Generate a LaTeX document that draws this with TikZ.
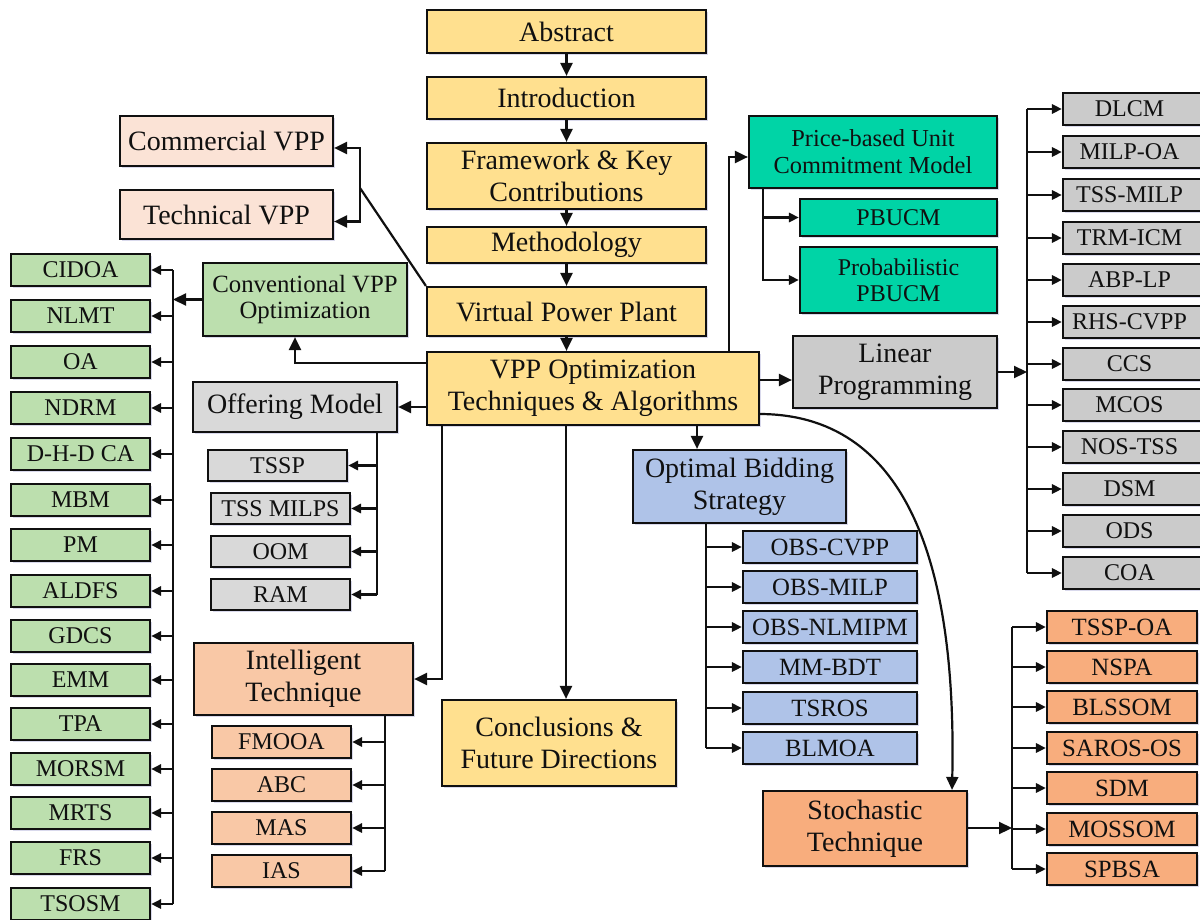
\documentclass[tikz,border=0pt]{standalone}
\usepackage{fontspec}
\setmainfont{Liberation Serif}
\usetikzlibrary{arrows.meta,shadows}

\definecolor{yel}{HTML}{FFE08F}
\definecolor{peach}{HTML}{FBE3D6}
\definecolor{grn}{HTML}{BCDFAE}
\definecolor{gryA}{HTML}{D9D9D9}
\definecolor{gryB}{HTML}{CBCBCB}
\definecolor{teal}{HTML}{00D4A6}
\definecolor{intl}{HTML}{F9C8A6}
\definecolor{blu}{HTML}{AFC3E8}
\definecolor{org}{HTML}{F8AD7D}
\definecolor{ink}{HTML}{101010}

% box from corner (x1,y1) to corner (x2,y2), in pixel-like units
\newcommand\tb[7]{%
  \node[#6, minimum width={((#4)-(#2))*0.5pt}, minimum height={((#5)-(#3))*0.5pt}]
    (#1) at ({((#2)+(#4))/2},{((#3)+(#5))/2}) {#7};}

\tikzset{
  box/.style={draw=ink, line width=1.1pt, inner sep=0pt, align=center, text=ink,
    drop shadow={shadow xshift=1.2pt, shadow yshift=-1.2pt, fill=blue!35!gray, opacity=0.22}},
  big/.style={box, font=\fontsize{14}{16}\selectfont},
  mid/.style={box, font=\fontsize{12.4}{13.2}\selectfont},
  small/.style={box, font=\fontsize{12}{13}\selectfont},
  line/.style={draw=ink, line width=1.1pt},
  arr/.style={line, -{Triangle[length=6.5pt,width=6pt]}},
  sarr/.style={line, -{Triangle[length=5pt,width=4.6pt]}},
}

\begin{document}
\begin{tikzpicture}[x=0.5pt, y=-0.5pt]
\useasboundingbox[fill=white] (0,0) rectangle (1200,920);
\begin{scope}
\clip (0,0) rectangle (1200,920);

% ---------- main column ----------
\tb{abs}{427}{10}{706}{53}{big, fill=yel}{Abstract}
\tb{intro}{427}{77}{706}{119}{big, fill=yel}{Introduction}
\tb{frame}{427}{143}{706}{209}{big, fill=yel}{Framework \& Key\\Contributions}
\tb{meth}{427}{227}{706}{263}{big, fill=yel}{Methodology}
\tb{vpp}{427}{287}{706}{336}{big, fill=yel}{Virtual Power Plant}
\tb{opt}{427}{352}{759}{425}{big, fill=yel}{VPP Optimization\\Techniques \& Algorithms}
\tb{concl}{442}{700}{676}{786}{big, fill=yel}{Conclusions \&\\Future Directions}

\draw[arr] (abs.south) -- (intro.north);
\draw[arr] (intro.south) -- (frame.north);
\draw[arr] (frame.south) -- (meth.north);
\draw[arr] (meth.south) -- (vpp.north);
\draw[arr] (vpp.south) -- (vpp.south |- opt.north);

% ---------- VPP types ----------
\tb{comm}{120}{116}{333}{166}{big, fill=peach}{Commercial VPP}
\tb{tech}{120}{190}{333}{239}{big, fill=peach}{Technical VPP}
\coordinate (split) at (360,188);
\draw[line] (vpp.north west) -- (split);
\draw[arr] (split) |- ([yshift=-3.5pt]comm.east);
\draw[arr] (split) |- ([yshift=-3.5pt]tech.east);

% ---------- outgoing points of the optimisation box ----------
\coordinate (oL1) at (427,363);
\coordinate (oL2) at (427,407);
\coordinate (oB1) at (442,425);
\coordinate (oB2) at (566,425);
\coordinate (oB3) at (697,425);
\coordinate (oR1) at (759,380);
\coordinate (oR2) at (759,414);
\coordinate (oT)  at (729,352);

% ---------- conventional optimisation ----------
\tb{conv}{203}{263}{407}{336}{mid, fill=grn}{Conventional VPP\\Optimization}
\draw[arr] (oL1) -| ([xshift=-5pt]conv.south);
\coordinate (gbus) at (173,270);
\foreach \t/\yy [count=\i] in {CIDOA/270, NLMT/316, OA/362, NDRM/408, D-H-D CA/454,
    MBM/500, PM/545, ALDFS/591, GDCS/636, EMM/680, TPA/724, MORSM/769, MRTS/813,
    FRS/858, TSOSM/904}{
  \tb{g\i}{11}{\yy-16}{150}{\yy+16}{small, fill=grn}{\t}
  \draw[sarr] (gbus |- g\i.east) -- (g\i.east);
}
\draw[line] (gbus |- g1.east) -- (gbus |- g15.east);
\draw[arr] (conv.west) -- (conv.west -| gbus);

% ---------- offering model ----------
\tb{offer}{193}{382}{397}{432}{big, fill=gryA}{Offering Model}
\draw[arr] (oL2) -- (offer.east);
\coordinate (obus) at (377,432);
\tb{o1}{208}{450}{347}{481}{small, fill=gryA}{TSSP}
\tb{o2}{211}{493}{350}{524}{small, fill=gryA}{TSS MILPS}
\tb{o3}{211}{536}{350}{567}{small, fill=gryA}{OOM}
\tb{o4}{211}{579}{350}{610}{small, fill=gryA}{RAM}
\draw[line] (obus) -- (obus |- o4.east);
\foreach \i in {1,...,4}{\draw[sarr] (obus |- o\i.east) -- (o\i.east);}

% ---------- intelligent technique ----------
\tb{intel}{194}{643}{413}{715}{big, fill=intl}{Intelligent\\Technique}
\draw[arr] (oB1) |- (intel.east);
\coordinate (ibus) at (385,715);
\foreach \t/\yy [count=\i] in {FMOOA/742, ABC/785, MAS/828, IAS/871}{
  \tb{i\i}{212}{\yy-16}{351}{\yy+16}{small, fill=intl}{\t}
  \draw[sarr] (ibus |- i\i.east) -- (i\i.east);
}
\draw[line] (ibus) -- (ibus |- i4.east);

% ---------- conclusions ----------
\draw[arr] (oB2) -- (oB2 |- concl.north);

% ---------- optimal bidding ----------
\tb{obs}{633}{450}{846}{523}{big, fill=blu}{Optimal Bidding\\Strategy}
\draw[arr] (oB3) -- (oB3 |- obs.north);
\coordinate (bbus) at (706,523);
\foreach \t/\yy [count=\i] in {OBS-CVPP/547, OBS-MILP/587, OBS-NLMIPM/627,
    MM-BDT/667, TSROS/708, BLMOA/748}{
  \tb{b\i}{743}{\yy-16}{917}{\yy+16}{small, fill=blu, font=\fontsize{12.4}{13}\selectfont}{\t}
  \draw[sarr] (bbus |- b\i.west) -- (b\i.west);
}
\draw[line] (bbus) -- (bbus |- b6.west);

% ---------- price-based unit commitment ----------
\tb{pb}{749}{116}{997}{188}{mid, fill=teal, font=\fontsize{12.2}{13.5}\selectfont}{Price-based Unit\\Commitment Model}
\draw[arr] (oT) |- ([yshift=-2.5pt]pb.west);
\tb{pb1}{800}{199}{997}{236}{small, fill=teal}{PBUCM}
\tb{pb2}{800}{247}{997}{313}{small, fill=teal}{Probabilistic\\PBUCM}
\coordinate (pbus) at (763,188);
\draw[sarr] (pbus) |- (pb1.west);
\draw[sarr] (pbus) |- (pb2.west);

% ---------- linear programming ----------
\tb{lp}{793}{336}{997}{408}{big, fill=gryB}{Linear\\Programming}
\draw[arr] (oR1) -- (oR1 -| lp.west);
\coordinate (lbus) at (1027,372);
\draw[arr] (lp.east) -- (lbus);
\foreach \t/\yy [count=\i] in {DLCM/109, MILP-OA/152, TSS-MILP/195, TRM-ICM/238,
    ABP-LP/280, RHS-CVPP/322, CCS/364, MCOS/405, NOS-TSS/447, DSM/489, ODS/531, COA/573}{
  \tb{l\i}{1063}{\yy-16}{1212}{\yy+16}{small, fill=gryB}{\kern-8pt\t}
  \draw[sarr] (lbus |- l\i.west) -- (l\i.west);
}
\draw[line] (lbus |- l1.west) -- (lbus |- l12.west);

% ---------- stochastic technique ----------
\tb{stoch}{763}{791}{967}{866}{big, fill=org}{Stochastic\\Technique}
\draw[arr] (oR2) .. controls (905,414) and (957,560) .. ([xshift=43.5pt]stoch.north);
\coordinate (sbus) at (1012,828);
\draw[arr] (stoch.east |- sbus) -- (sbus);
\foreach \t/\yy [count=\i] in {TSSP-OA/627, NSPA/667, BLSSOM/707, SAROS-OS/748,
    SDM/788, MOSSOM/829, SPBSA/869}{
  \tb{s\i}{1047}{\yy-16}{1197}{\yy+16}{small, fill=org, font=\fontsize{12.4}{13}\selectfont}{\t}
  \draw[sarr] (sbus |- s\i.west) -- (s\i.west);
}
\draw[line] (sbus |- s1.west) -- (sbus |- s7.west);

\end{scope}
\end{tikzpicture}
\end{document}
